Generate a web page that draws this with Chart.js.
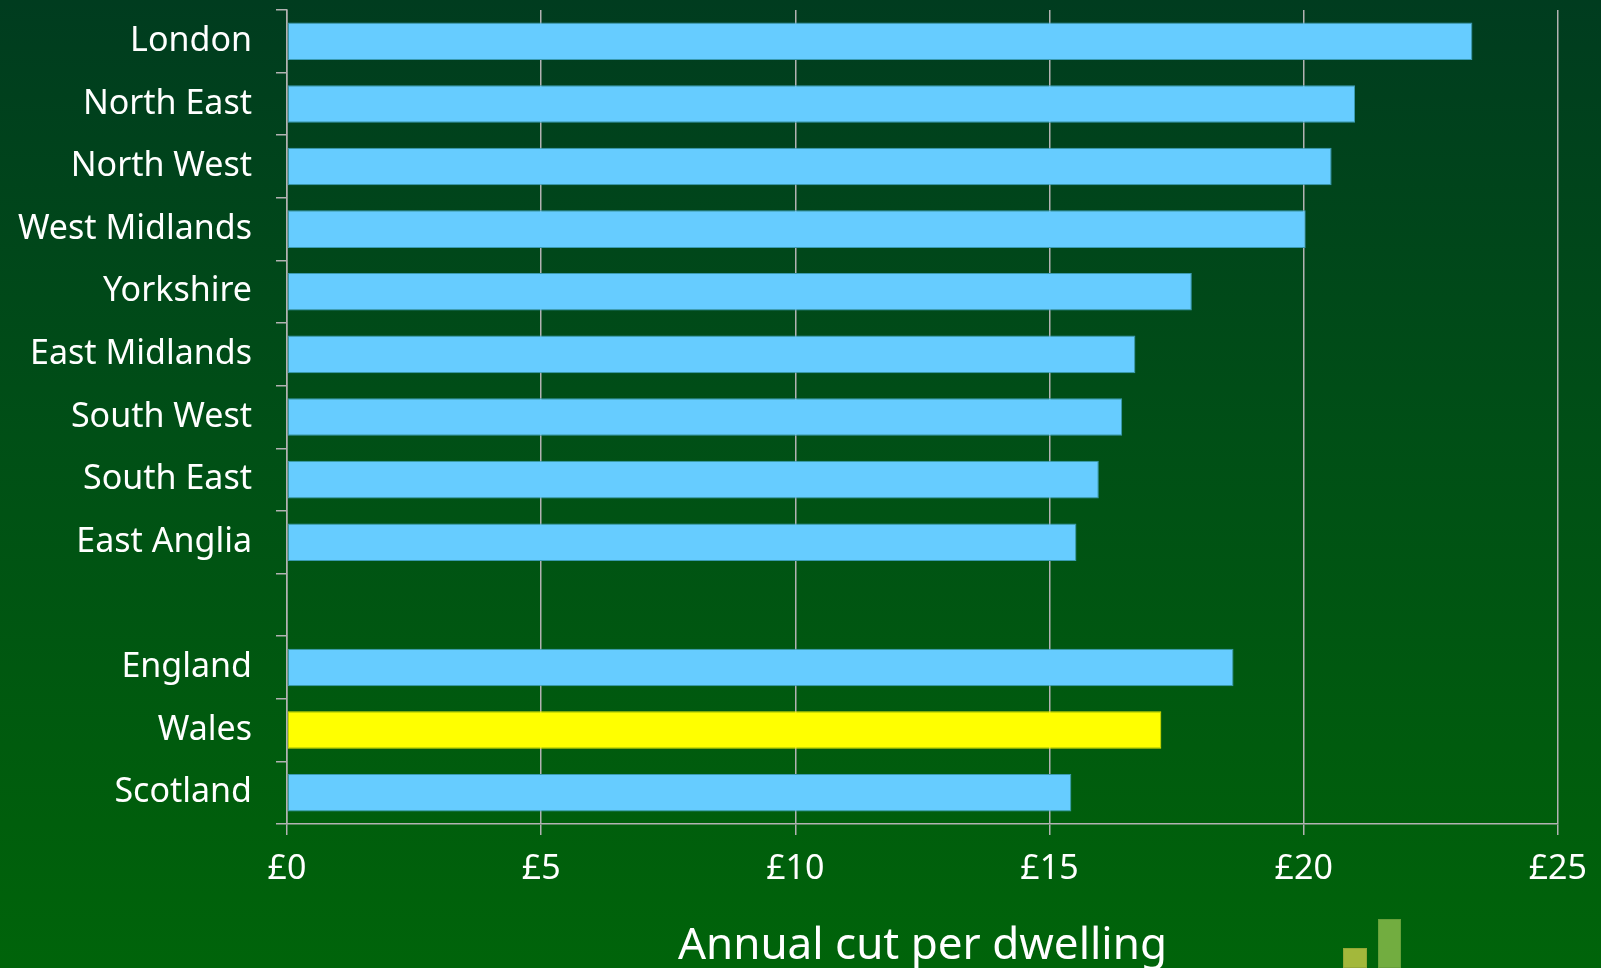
<!DOCTYPE html>
<html>
<head>
<meta charset="utf-8">
<script src="https://cdn.jsdelivr.net/npm/chart.js"></script>
<style>
html, body { margin: 0; padding: 0; overflow: hidden; }
body {
    width: 1601px; height: 968px; position: relative;
    background: linear-gradient(to bottom, #003c1f 0%, #004f16 45%, #005e0c 85%, #00640a 100%);
}
#wrap { position: absolute; left: 0; top: 0; width: 1601px; height: 968px; }
.logo { position: absolute; box-sizing: border-box; }
</style>
</head>
<body>
<div id="wrap"><canvas id="myChart"></canvas></div>
<div class="logo" style="left:1343px; top:948px; width:24px; height:20px; background:#a3b83b; border:1px solid #93a836;"></div>
<div class="logo" style="left:1378px; top:919px; width:23px; height:49px; background:#72ad40; border:1px solid #66a03a;"></div>
<script>
// chart data
const regions = ['London', 'North East', 'North West', 'West Midlands', 'Yorkshire', 'East Midlands',
    'South West', 'South East', 'East Anglia', '', 'England', 'Wales', 'Scotland'];
const cutPerDwelling = [23.32, 21.01, 20.55, 20.04, 17.80, 16.69, 16.43, 15.97, 15.53, null, 18.62, 17.20, 15.43];
const highlighted = 'Wales';
const xTickValues = [0, 5, 10, 15, 20, 25];
const axisTitle = 'Annual cut per dwelling';

const gridGrey = '#b2b2b2';

Chart.defaults.font.family = "'Noto Sans', 'Open Sans', sans-serif";
Chart.defaults.color = '#ffffff';

const ctx = document.getElementById('myChart').getContext('2d');
new Chart(ctx, {
    type: 'bar',
    data: {
        labels: regions,
        datasets: [{
            label: axisTitle,
            data: cutPerDwelling,
            backgroundColor: regions.map(r => r === highlighted ? '#ffff00' : '#66ccff'),
            borderColor: regions.map(r => r === highlighted ? '#e6e600' : '#3a9ab0'),
            borderWidth: 1,
            borderSkipped: false,
            barPercentage: 0.6,
            categoryPercentage: 1
        }]
    },
    options: {
        indexAxis: 'y',
        responsive: true,
        maintainAspectRatio: false,
        animation: false,
        layout: { padding: { top: 10, right: 42, left: 0, bottom: 0 } },
        plugins: {
            legend: { display: false },
            tooltip: { enabled: false }
        },
        scales: {
            x: {
                min: 0,
                max: 25,
                afterBuildTicks: scale => { scale.ticks = xTickValues.map(v => ({ value: v })); },
                ticks: {
                    color: '#ffffff',
                    font: { size: 34 },
                    padding: 14,
                    maxRotation: 0,
                    callback: v => '£' + v
                },
                grid: { color: gridGrey, lineWidth: 1.5, tickLength: 11 },
                border: { color: gridGrey, width: 1.5 },
                title: {
                    display: true,
                    text: axisTitle,
                    color: '#ffffff',
                    font: { size: 44, lineHeight: 1 },
                    padding: { top: 0, bottom: 0 }
                },
                afterFit: scale => { scale.height = 144; }
            },
            y: {
                grid: { offset: true, drawOnChartArea: false, color: gridGrey, lineWidth: 1.5, tickLength: 11 },
                border: { color: gridGrey, width: 1.5 },
                ticks: {
                    color: '#ffffff',
                    font: { size: 34 },
                    padding: 24,
                    autoSkip: false
                },
                afterFit: scale => {
                    scale.width = 287;
                    scale.paddingTop = 0;
                    scale.paddingBottom = 0;
                }
            }
        }
    }
});
</script>
</body>
</html>
